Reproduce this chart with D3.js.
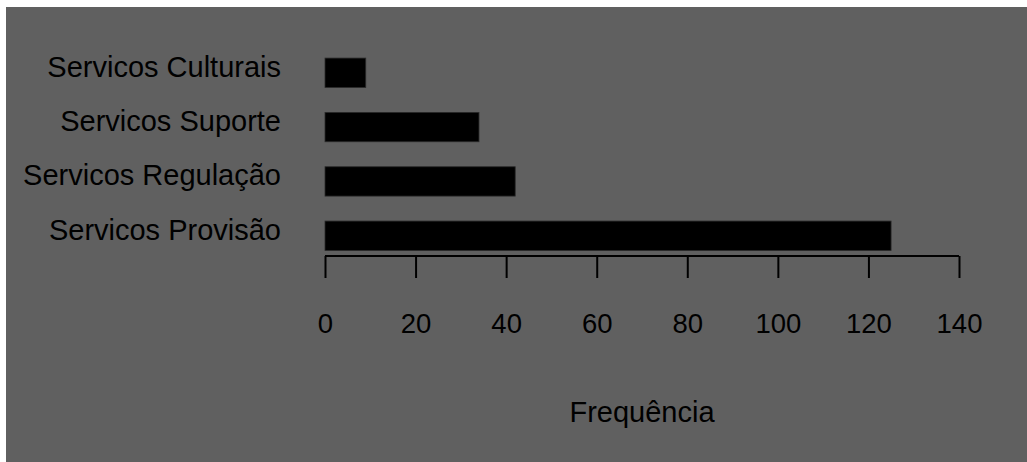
<!DOCTYPE html>
<html>
<head>
<meta charset="utf-8">
<script src="https://cdn.jsdelivr.net/npm/d3@7"></script>
<style>
  html, body { margin: 0; padding: 0; background: #ffffff; }
  svg { display: block; }
  text { font-family: "Liberation Sans", Arial, sans-serif; fill: #000; }
</style>
</head>
<body>
<svg id="chart" width="1027" height="462"></svg>
<script>
const categories = ["Servicos Culturais", "Servicos Suporte", "Servicos Regulação", "Servicos Provisão"];
const values = [9, 34, 42, 125];
const tickValues = [0, 20, 40, 60, 80, 100, 120, 140];
const xTitle = "Frequência";

const svg = d3.select("#chart");
svg.append("rect").attr("x", 6).attr("y", 7).attr("width", 1027 - 6).attr("height", 462 - 7).attr("fill", "#606060");

const x = d3.scaleLinear().domain([0, 140]).range([325, 959]);
const y = d3.scaleBand().domain(categories).range([44.5, 264]).paddingInner(0.46).paddingOuter(0.25);

svg.append("g").selectAll("rect").data(categories).join("rect")
  .attr("x", x(0))
  .attr("y", d => y(d))
  .attr("width", (d, i) => x(values[i]) - x(0))
  .attr("height", y.bandwidth())
  .attr("fill", "#000")
  .attr("stroke", "#2a2a2a")
  .attr("stroke-width", 0.8);

svg.append("g").selectAll("text").data(categories).join("text")
  .attr("x", 281)
  .attr("y", d => y(d) + y.bandwidth() / 2 + 4)
  .attr("text-anchor", "end")
  .attr("font-size", 29)
  .text(d => d);

const axis = d3.axisBottom(x).tickValues(tickValues).tickSize(22).tickPadding(0).tickFormat(d3.format("d"));
const gx = svg.append("g").attr("transform", "translate(0,256)").call(axis);
gx.select(".domain").attr("stroke", "#000").attr("stroke-width", 2).attr("d", `M${x(0)},0H${x(140)}`);
gx.selectAll(".tick line").attr("stroke", "#000").attr("stroke-width", 2);
gx.selectAll(".tick text").attr("font-size", 27.5).attr("dy", null).attr("y", 77).attr("fill", "#000")
  .style("font-family", "'Liberation Sans', Arial, sans-serif");

svg.append("text")
  .attr("x", (x(0) + x(140)) / 2)
  .attr("y", 422)
  .attr("text-anchor", "middle")
  .attr("font-size", 29)
  .text(xTitle);
</script>
</body>
</html>
